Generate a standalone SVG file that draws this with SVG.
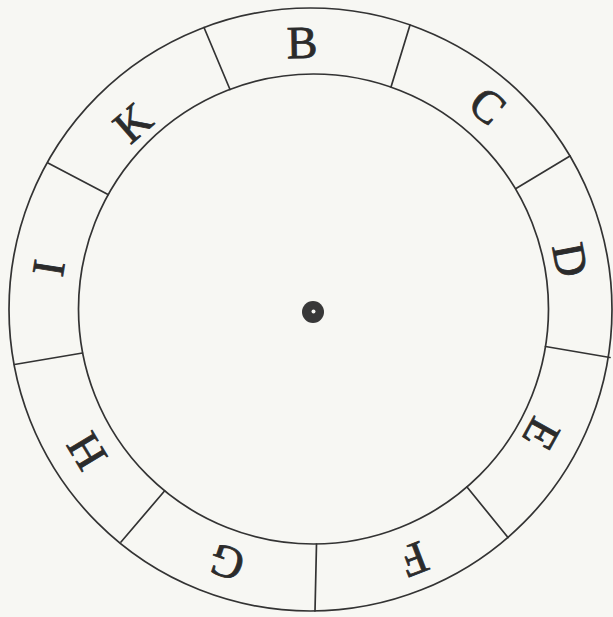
<svg xmlns="http://www.w3.org/2000/svg" width="613" height="617" viewBox="0 0 613 617">
<style>
.ring{fill:none;stroke:#333;stroke-width:1.7}
.div line{stroke:#333;stroke-width:1.7;stroke-linecap:round}
.lbl{font-family:"Liberation Serif","DejaVu Serif",serif;font-size:46px;fill:#2b2b2b;stroke:#2b2b2b;stroke-width:0.8;text-anchor:middle}
</style>
<rect width="613" height="617" fill="#f7f7f3"/>
<g id="outer-ring"><circle class="ring" cx="310.5" cy="309.5" r="301.5"/></g>
<g id="inner-disc"><circle class="ring" cx="313.5" cy="309" r="235"/></g>
<g id="dividers" class="div">
<line x1="230" y1="89.5" x2="204" y2="27.5"/>
<line x1="391" y1="87" x2="410" y2="25"/>
<line x1="516" y1="188.5" x2="570" y2="156"/>
<line x1="545.5" y1="346.5" x2="610" y2="357.5"/>
<line x1="467" y1="487" x2="508" y2="537.5"/>
<line x1="316.5" y1="544" x2="315" y2="611"/>
<line x1="164.5" y1="491" x2="121" y2="542"/>
<line x1="82.5" y1="353" x2="14.5" y2="364.5"/>
<line x1="108" y1="194.5" x2="48" y2="163"/>
</g>
<g id="B"><text class="lbl" transform="translate(302,43) rotate(-1)" y="15">B</text></g>
<g id="C"><text class="lbl" transform="translate(487.5,106) rotate(40)" y="15">C</text></g>
<g id="D"><text class="lbl" transform="translate(570,260) rotate(79)" y="15">D</text></g>
<g id="E"><text class="lbl" transform="translate(541,434) rotate(119)" y="15">E</text></g>
<g id="F"><text class="lbl" transform="translate(414,559) rotate(159)" y="15">F</text></g>
<g id="G"><text class="lbl" transform="translate(227,562) rotate(199)" y="15">G</text></g>
<g id="H"><text class="lbl" transform="translate(87,451) rotate(239)" y="15">H</text></g>
<g id="I"><text class="lbl" transform="translate(49,268) rotate(279)" y="15">I</text></g>
<g id="K"><text class="lbl" transform="translate(133,123) rotate(319)" y="15">K</text></g>
<g id="center"><circle cx="313" cy="312" r="11" fill="#383838"/><circle cx="313.5" cy="311.5" r="2" fill="#f7f7f3"/></g>
</svg>
